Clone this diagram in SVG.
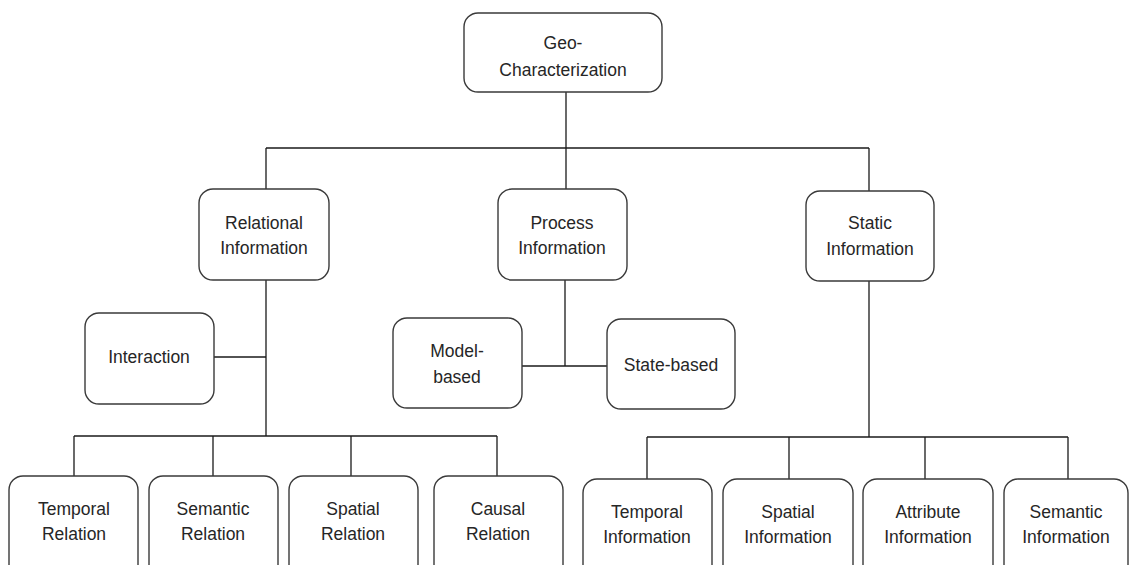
<svg xmlns="http://www.w3.org/2000/svg" width="1129" height="565" viewBox="0 0 1129 565">
  <style>
    .box { fill: #ffffff; stroke: #3a3a3a; stroke-width: 1.4; }
    .lbl { font-family: "Liberation Sans", Arial, sans-serif; font-size: 17.5px; fill: #262626; text-anchor: middle; }
    .wire { fill: none; stroke: #1a1a1a; stroke-width: 1.3; }
  </style>
  <rect width="1129" height="565" fill="#ffffff"/>

  <!-- connectors -->
  <g id="connectors" class="wire">
    <!-- root to level 1 -->
    <path d="M566 92 V148"/>
    <path d="M266 148 H869"/>
    <path d="M266 148 V189"/>
    <path d="M566 148 V189"/>
    <path d="M869 148 V191"/>
    <!-- relational branch -->
    <path d="M266 280 V436"/>
    <path d="M214 357 H266"/>
    <path d="M74 436 H497"/>
    <path d="M74 436 V476"/>
    <path d="M213 436 V476"/>
    <path d="M351 436 V476"/>
    <path d="M497 436 V476"/>
    <!-- process branch -->
    <path d="M565 280 V366"/>
    <path d="M522 366 H607"/>
    <!-- static branch -->
    <path d="M869 281 V437"/>
    <path d="M647 437 H1068"/>
    <path d="M647 437 V479"/>
    <path d="M789 437 V479"/>
    <path d="M925 437 V479"/>
    <path d="M1068 437 V479"/>
  </g>

  <g id="geo-characterization">
    <rect class="box" x="464" y="13" width="198" height="79" rx="14"/>
    <text class="lbl" x="563" y="49">Geo-</text>
    <text class="lbl" x="563" y="76">Characterization</text>
  </g>

  <g id="relational-information">
    <rect class="box" x="199" y="189" width="130" height="91" rx="14"/>
    <text class="lbl" x="264" y="229">Relational</text>
    <text class="lbl" x="264" y="254">Information</text>
  </g>

  <g id="process-information">
    <rect class="box" x="498" y="189" width="129" height="91" rx="14"/>
    <text class="lbl" x="562" y="229">Process</text>
    <text class="lbl" x="562" y="254">Information</text>
  </g>

  <g id="static-information">
    <rect class="box" x="806" y="191" width="128" height="90" rx="14"/>
    <text class="lbl" x="870" y="229">Static</text>
    <text class="lbl" x="870" y="255">Information</text>
  </g>

  <g id="interaction">
    <rect class="box" x="85" y="313" width="129" height="91" rx="14"/>
    <text class="lbl" x="149" y="363">Interaction</text>
  </g>

  <g id="model-based">
    <rect class="box" x="393" y="318" width="129" height="90" rx="14"/>
    <text class="lbl" x="457" y="357">Model-</text>
    <text class="lbl" x="457" y="383">based</text>
  </g>

  <g id="state-based">
    <rect class="box" x="607" y="319" width="128" height="90" rx="14"/>
    <text class="lbl" x="671" y="371">State-based</text>
  </g>

  <g id="temporal-relation">
    <rect class="box" x="9" y="476" width="129" height="110" rx="14"/>
    <text class="lbl" x="74" y="515">Temporal</text>
    <text class="lbl" x="74" y="540">Relation</text>
  </g>

  <g id="semantic-relation">
    <rect class="box" x="149" y="476" width="129" height="110" rx="14"/>
    <text class="lbl" x="213" y="515">Semantic</text>
    <text class="lbl" x="213" y="540">Relation</text>
  </g>

  <g id="spatial-relation">
    <rect class="box" x="289" y="476" width="129" height="110" rx="14"/>
    <text class="lbl" x="353" y="515">Spatial</text>
    <text class="lbl" x="353" y="540">Relation</text>
  </g>

  <g id="causal-relation">
    <rect class="box" x="434" y="476" width="129" height="110" rx="14"/>
    <text class="lbl" x="498" y="515">Causal</text>
    <text class="lbl" x="498" y="540">Relation</text>
  </g>

  <g id="temporal-information">
    <rect class="box" x="583" y="479" width="129" height="110" rx="14"/>
    <text class="lbl" x="647" y="518">Temporal</text>
    <text class="lbl" x="647" y="543">Information</text>
  </g>

  <g id="spatial-information">
    <rect class="box" x="723" y="479" width="130" height="110" rx="14"/>
    <text class="lbl" x="788" y="518">Spatial</text>
    <text class="lbl" x="788" y="543">Information</text>
  </g>

  <g id="attribute-information">
    <rect class="box" x="863" y="479" width="130" height="110" rx="14"/>
    <text class="lbl" x="928" y="518">Attribute</text>
    <text class="lbl" x="928" y="543">Information</text>
  </g>

  <g id="semantic-information">
    <rect class="box" x="1004" y="479" width="124" height="110" rx="14"/>
    <text class="lbl" x="1066" y="518">Semantic</text>
    <text class="lbl" x="1066" y="543">Information</text>
  </g>
</svg>
